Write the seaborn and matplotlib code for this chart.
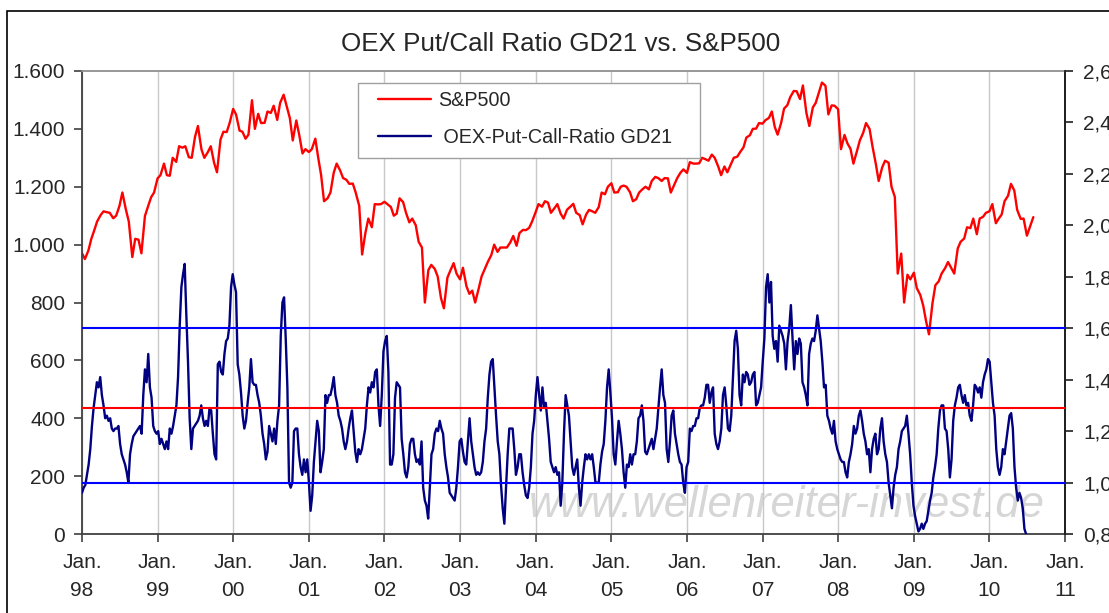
import numpy as np
import pandas as pd
import seaborn as sns
import matplotlib
matplotlib.use("Agg")
from matplotlib import pyplot as plt
from matplotlib.patches import Rectangle
from matplotlib.lines import Line2D
import matplotlib.ticker as mticker

sns.set_style("white")
plt.rcParams['font.family'] = ['Liberation Sans', 'DejaVu Sans']

## DATA ##
# S&P500, read twice a month (1st and 15th), starting 1 Jan 1998
sp_start = [970]
sp_1998 = [950, 980, 1020, 1049, 1080, 1102, 1115, 1112, 1110, 1091, 1100, 1134,
           1180, 1121, 1080, 957, 1020, 1017, 970, 1099, 1130, 1164, 1180, 1229]
sp_1999 = [1240, 1280, 1240, 1238, 1300, 1286, 1340, 1335, 1340, 1302, 1300, 1373,
           1410, 1329, 1300, 1320, 1340, 1283, 1250, 1363, 1390, 1389, 1420, 1469]
sp_2000 = [1450, 1394, 1390, 1366, 1380, 1499, 1400, 1452, 1420, 1421, 1460, 1455,
           1480, 1431, 1490, 1518, 1480, 1437, 1360, 1429, 1380, 1315, 1330, 1320]
sp_2001 = [1330, 1366, 1300, 1240, 1150, 1160, 1180, 1249, 1280, 1256, 1230, 1224,
           1210, 1211, 1180, 1134, 966, 1041, 1090, 1060, 1140, 1139, 1140, 1148]
sp_2002 = [1140, 1130, 1100, 1107, 1160, 1147, 1110, 1077, 1090, 1067, 1010, 990,
           800, 912, 930, 916, 890, 815, 780, 886, 910, 936, 900, 880]
sp_2003 = [920, 856, 830, 841, 800, 848, 890, 917, 940, 964, 1000, 975,
           990, 990, 990, 1008, 1030, 996, 1040, 1051, 1050, 1058, 1080, 1112]
sp_2004 = [1140, 1131, 1150, 1145, 1110, 1126, 1140, 1107, 1090, 1121, 1130, 1141,
           1110, 1102, 1070, 1104, 1120, 1115, 1110, 1130, 1180, 1174, 1200, 1212]
sp_2005 = [1180, 1181, 1200, 1204, 1200, 1181, 1150, 1157, 1180, 1192, 1200, 1191,
           1220, 1234, 1230, 1220, 1230, 1229, 1180, 1207, 1230, 1249, 1260, 1248]
sp_2006 = [1285, 1280, 1280, 1281, 1300, 1295, 1290, 1311, 1300, 1270, 1240, 1270,
           1250, 1277, 1300, 1304, 1320, 1336, 1370, 1378, 1400, 1401, 1420, 1418]
sp_2007 = [1430, 1438, 1460, 1407, 1380, 1421, 1470, 1482, 1510, 1531, 1530, 1503,
           1550, 1455, 1410, 1474, 1490, 1527, 1560, 1549, 1450, 1481, 1480, 1468]
sp_2008 = [1330, 1379, 1350, 1331, 1280, 1323, 1360, 1386, 1420, 1400, 1340, 1280,
           1220, 1267, 1290, 1283, 1200, 1165, 900, 969, 800, 896, 880, 903]
sp_2009 = [850, 826, 790, 735, 690, 798, 860, 873, 900, 919, 940, 919,
           900, 987, 1010, 1021, 1060, 1057, 1090, 1036, 1090, 1096, 1110, 1115]
sp_2010 = [1140, 1074, 1090, 1104, 1150, 1169, 1210, 1187, 1120, 1089, 1090, 1031,
           1060, 1095]

# OEX put/call ratio (21 day avg), read every 8 days from 1 Jan 1998
pcr_1 = [0.96, 0.98, 0.99, 1.03, 1.07, 1.13, 1.22, 1.29, 1.34, 1.39,
         1.37, 1.41, 1.34, 1.30, 1.25, 1.26, 1.24, 1.25, 1.21, 1.20,
         1.21, 1.21, 1.22, 1.15, 1.11, 1.09, 1.07, 1.04, 1.00, 1.11,
         1.15, 1.18, 1.19, 1.20, 1.21, 1.22, 1.19, 1.34, 1.44, 1.39,
         1.50, 1.37, 1.33, 1.22, 1.20, 1.19, 1.20, 1.15, 1.17, 1.15,
         1.13, 1.16, 1.13, 1.21, 1.19, 1.22, 1.26, 1.30, 1.41, 1.61,
         1.76, 1.81, 1.85, 1.65, 1.47, 1.25, 1.13, 1.21, 1.22, 1.23,
         1.24, 1.26, 1.30, 1.25, 1.22, 1.24, 1.22, 1.29, 1.28, 1.19,
         1.11, 1.09, 1.46, 1.47, 1.43, 1.42, 1.50, 1.55, 1.56, 1.61,
         1.76, 1.81, 1.77, 1.74, 1.46, 1.42, 1.35, 1.26, 1.21, 1.24,
         1.31, 1.37]
pcr_2 = [1.48, 1.39, 1.38, 1.38, 1.34, 1.31, 1.26, 1.19, 1.15, 1.09,
         1.12, 1.22, 1.19, 1.16, 1.21, 1.15, 1.24, 1.30, 1.57, 1.70,
         1.72, 1.56, 1.37, 1.00, 0.98, 1.00, 1.20, 1.21, 1.21, 1.11,
         1.06, 1.03, 1.09, 1.04, 1.09, 1.00, 0.89, 0.95, 1.08, 1.16,
         1.24, 1.20, 1.04, 1.08, 1.13, 1.34, 1.31, 1.34, 1.34, 1.37,
         1.41, 1.34, 1.31, 1.26, 1.24, 1.21, 1.16, 1.13, 1.16, 1.21,
         1.25, 1.28, 1.20, 1.12, 1.08, 1.13, 1.11, 1.13, 1.17, 1.21,
         1.30, 1.37, 1.35, 1.39, 1.37, 1.43, 1.44, 1.30, 1.22, 1.34,
         1.51, 1.55, 1.57, 1.43, 1.07, 1.07, 1.11, 1.33, 1.39, 1.38,
         1.37, 1.17, 1.11, 1.04, 1.02, 1.06, 1.15, 1.17, 1.17]
pcr_3 = [1.11, 1.08, 1.09, 1.07, 1.16, 0.98, 0.93, 0.91, 0.86, 0.98,
         1.11, 1.13, 1.19, 1.21, 1.20, 1.24, 1.21, 1.19, 1.11, 1.06,
         1.02, 0.96, 0.95, 0.94, 0.93, 0.98, 1.06, 1.16, 1.17, 1.12,
         1.08, 1.07, 1.16, 1.25, 1.16, 1.11, 1.06, 1.03, 1.04, 1.03,
         1.04, 1.08, 1.16, 1.21, 1.33, 1.42, 1.47, 1.48, 1.37, 1.26,
         1.16, 1.11, 0.99, 0.90, 0.84, 0.98, 1.11, 1.21, 1.21, 1.21,
         1.13, 1.03, 1.06, 1.11, 1.11, 1.04, 0.99, 0.95, 0.94, 0.98,
         1.06, 1.19, 1.24, 1.34, 1.41, 1.34, 1.28, 1.37, 1.29, 1.31,
         1.24, 1.17, 1.08, 1.06, 1.04, 1.06, 1.03, 1.04, 0.91, 1.00,
         1.19, 1.34, 1.30, 1.26, 1.16, 1.06, 1.03, 1.06, 1.09]
pcr_4 = [0.98, 0.91, 1.00, 1.06, 1.11, 1.09, 1.11, 1.09, 1.11, 1.06,
         1.00, 1.00, 1.00, 1.07, 1.12, 1.15, 1.24, 1.37, 1.44, 1.35,
         1.25, 1.11, 1.07, 1.16, 1.24, 1.19, 1.13, 1.04, 0.98, 1.07,
         1.06, 1.11, 1.07, 1.11, 1.11, 1.16, 1.25, 1.26, 1.30, 1.24,
         1.12, 1.11, 1.13, 1.15, 1.17, 1.13, 1.17, 1.21, 1.29, 1.37,
         1.44, 1.34, 1.31, 1.13, 1.08, 1.16, 1.26, 1.28, 1.19, 1.15,
         1.11, 1.08, 1.07, 1.00, 0.96, 1.06, 1.08, 1.21, 1.20, 1.22,
         1.22, 1.25, 1.25, 1.29, 1.30, 1.30, 1.33, 1.38, 1.38, 1.31,
         1.35, 1.37, 1.19, 1.15, 1.13, 1.16, 1.21, 1.34, 1.37, 1.30,
         1.21, 1.20, 1.26, 1.41, 1.55, 1.59, 1.52, 1.34, 1.30]
pcr_5 = [1.42, 1.39, 1.43, 1.42, 1.38, 1.39, 1.42, 1.43, 1.30, 1.31,
         1.34, 1.37, 1.47, 1.56, 1.76, 1.81, 1.70, 1.78, 1.57, 1.52,
         1.55, 1.47, 1.61, 1.59, 1.57, 1.54, 1.44, 1.55, 1.60, 1.69,
         1.56, 1.44, 1.55, 1.50, 1.56, 1.54, 1.39, 1.37, 1.34, 1.30,
         1.50, 1.54, 1.56, 1.55, 1.59, 1.65, 1.60, 1.55, 1.47, 1.37,
         1.38, 1.26, 1.24, 1.21, 1.19, 1.24, 1.16, 1.13, 1.11, 1.09,
         1.08, 1.08, 1.04, 1.02, 1.08, 1.11, 1.15, 1.22, 1.19, 1.21,
         1.26, 1.28, 1.24, 1.19, 1.16, 1.11, 1.13, 1.04, 1.13, 1.17,
         1.19, 1.11, 1.13, 1.21, 1.25, 1.16, 1.11, 1.08, 1.00, 0.95,
         0.90, 0.98, 1.03, 1.06, 1.13, 1.16, 1.20, 1.21, 1.22]
pcr_6 = [1.26, 1.19, 1.11, 1.00, 0.91, 0.87, 0.84, 0.81, 0.82, 0.84,
         0.82, 0.84, 0.85, 0.89, 0.93, 0.96, 1.02, 1.06, 1.11, 1.21,
         1.28, 1.30, 1.30, 1.21, 1.20, 1.13, 1.02, 1.09, 1.24, 1.30,
         1.33, 1.37, 1.38, 1.34, 1.31, 1.34, 1.30, 1.31, 1.26, 1.24,
         1.30, 1.38, 1.37, 1.35, 1.37, 1.33, 1.39, 1.42, 1.44, 1.48,
         1.47, 1.39, 1.31, 1.26, 1.13, 1.06, 1.03, 1.06, 1.13, 1.11,
         1.16, 1.21, 1.26, 1.27, 1.21, 1.06, 0.98, 0.93, 0.96, 0.94,
         0.90, 0.82, 0.80]

# reference lines (right axis)
upper_level = 1.6
mid_level = 1.29
lower_level = 1.0

years = list(range(1998, 2012))
title = "OEX Put/Call Ratio GD21 vs. S&P500"
sp_label = "S&P500"
pcr_label = " OEX-Put-Call-Ratio GD21"

## BUILD FRAMES ##
sp500 = sp_start + sp_1998 + sp_1999 + sp_2000 + sp_2001 + sp_2002 + sp_2003 + \
    sp_2004 + sp_2005 + sp_2006 + sp_2007 + sp_2008 + sp_2009 + sp_2010
pcr = pcr_1 + pcr_2 + pcr_3 + pcr_4 + pcr_5 + pcr_6

df_sp = pd.DataFrame({"date": pd.date_range("1998-01-01", periods=len(sp500), freq="SMS"),
                      "value": sp500})
df_pcr = pd.DataFrame({"date": pd.date_range("1998-01-01", periods=len(pcr), freq="8D"),
                       "value": pcr})

## PLOT ##
W, H = 1109, 613
fig = plt.figure(figsize=(W / 100, H / 100), dpi=100)
ax = fig.add_axes([82 / W, 1 - 534 / H, (1065 - 82) / W, (534 - 71) / H])
ax2 = ax.twinx()

sns.lineplot(data=df_sp, x="date", y="value", ax=ax, color="#ff0000",
             lw=1.7, estimator=None, zorder=2)
sns.lineplot(data=df_pcr, x="date", y="value", ax=ax2, color="#000080",
             lw=1.7, estimator=None, zorder=2)

for lvl, c in [(upper_level, "#0000ff"), (mid_level, "#ff0000"), (lower_level, "#0000ff")]:
    ax2.axhline(lvl, color=c, lw=1.5, zorder=3)

# axes ranges and ticks
ax.set_xlim(pd.Timestamp("1998-01-01"), pd.Timestamp("2011-01-01"))
ax.set_ylim(0, 1600)
ax2.set_ylim(0.8, 2.6)
ax.set_yticks(np.arange(0, 1601, 200))
ax2.set_yticks(np.arange(0.8, 2.61, 0.2))
ax.yaxis.set_major_formatter(mticker.FuncFormatter(lambda v, p: f"{v:,.0f}".replace(",", ".")))
ax2.yaxis.set_major_formatter(mticker.FuncFormatter(lambda v, p: f"{v:.1f}".replace(".", ",")))
ax.set_xticks([pd.Timestamp(f"{y}-01-01") for y in years])
ax.set_xticklabels([f"Jan.\n{y % 100:02d}" for y in years], linespacing=1.6)

ax.set_xlabel("")
ax.set_ylabel("")
ax2.set_ylabel("")

ax.tick_params(axis="both", direction="out", length=6, width=1.2, color="#404040",
               labelsize=15, bottom=True, left=True)
ax.tick_params(axis="x", pad=8)
ax.tick_params(axis="y", pad=6)
ax2.tick_params(axis="y", direction="out", length=6, width=1.2, color="#202020",
                labelsize=15, right=True, pad=7)

ax.grid(axis="x", color="#c8c8c8", lw=1.0)
ax.set_axisbelow(True)

ax.spines["top"].set_color("#909090")
ax.spines["left"].set_color("#404040")
ax.spines["bottom"].set_color("#404040")
for s in ["top", "left", "bottom", "right"]:
    ax.spines[s].set_linewidth(1.3)
for s in ["top", "left", "bottom"]:
    ax2.spines[s].set_visible(False)
ax2.spines["right"].set_color("#202020")
ax2.spines["right"].set_linewidth(1.3)

# watermark
ax.text(0.717, 0.062, "www.wellenreiter-invest.de", transform=ax.transAxes,
        ha="center", va="center", fontsize=31.4, style="italic", color="#d6d6d6", zorder=0)

# legend: frame drawn by hand so the padding matches the original box
ax2.add_patch(Rectangle((358 / W, 1 - 158 / H), 342 / W, 75 / H, transform=fig.transFigure,
                        facecolor="white", edgecolor="#a0a0a0", lw=1.0, zorder=4,
                        clip_on=False))
handles = [Line2D([], [], color="#ff0000", lw=1.7), Line2D([], [], color="#000080", lw=1.7)]
leg = ax2.legend(handles, [sp_label, pcr_label], loc="upper left",
                 bbox_to_anchor=(378 / W, 1 - 91 / H), bbox_transform=fig.transFigure,
                 frameon=False, fontsize=14.2, handlelength=2.7, handletextpad=0.35,
                 labelspacing=0.92, borderpad=0, borderaxespad=0)
leg.set_zorder(5)

fig.text(561 / W, 1 - 44 / H, title, ha="center", va="center", fontsize=18.7)

# outer chart frame
fig.add_artist(Rectangle((7 / W, -0.05), 1.0, 1.05 - 11.5 / H, transform=fig.transFigure,
                         fill=False, edgecolor="black", lw=1.2))

fig.savefig("out.png", dpi=100)
